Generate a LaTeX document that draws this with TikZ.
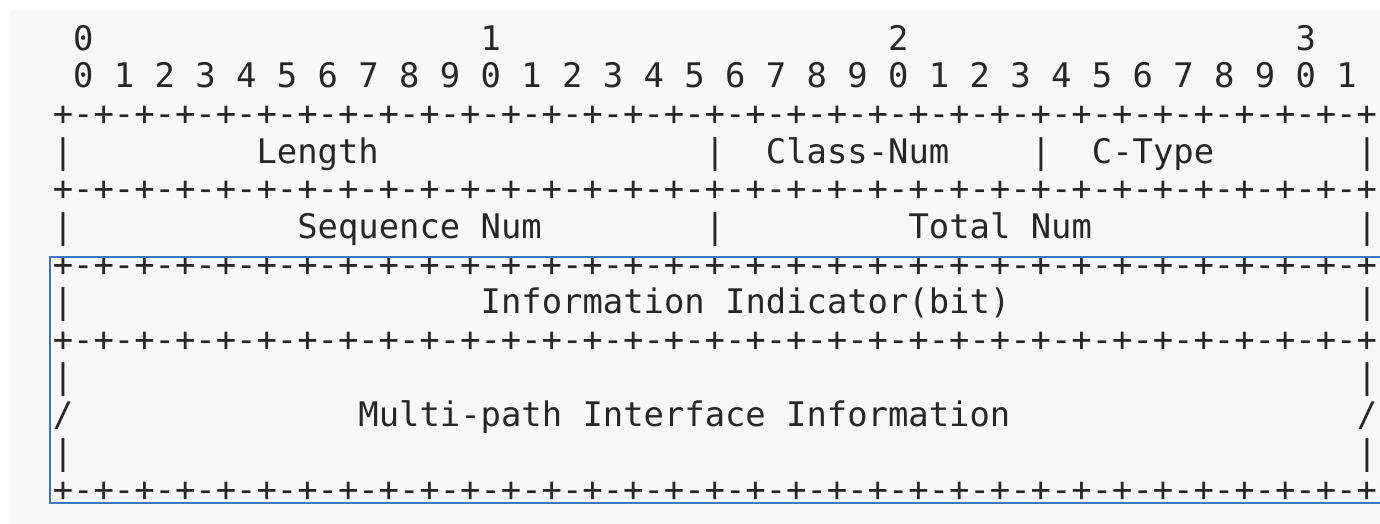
\documentclass[tikz,border=0pt]{standalone}
\usepackage{fontspec}
\newfontfamily\packetfont{DejaVu Sans Mono}
\definecolor{ink}{HTML}{262626}
\definecolor{pagebg}{HTML}{F8F8F8}
\definecolor{framecol}{HTML}{4472C4}
% column / row grid of the packet layout (units are px)
\newcommand\colpos[1]{52.8+20.375*(#1)}
\newcommand\rowpos[1]{50.4+37.6*((#1)-1)}
\newcommand\cellat[4]{\node[cell] (#1) at ({\colpos{#3}},{\rowpos{#2}}) {#4};}
\newcommand\ruleline{+-+-+-+-+-+-+-+-+-+-+-+-+-+-+-+-+-+-+-+-+-+-+-+-+-+-+-+-+-+-+-+-+}
\begin{document}
\begin{tikzpicture}[x=0.5pt,y=-0.5pt,
  cell/.style={anchor=base west,inner sep=0pt,outer sep=0pt,text=ink,
    font=\packetfont\fontsize{16.92pt}{20pt}\selectfont},
  highlight/.style={draw=framecol,line width=1pt}]
\useasboundingbox (0,0) rectangle (1380,524);
\clip (0,0) rectangle (1380,524);
\fill[pagebg] (10,10) rectangle (1390,534);

% bit numbering
\cellat{tens0}{1}{1}{0}
\cellat{tens1}{1}{21}{1}
\cellat{tens2}{1}{41}{2}
\cellat{tens3}{1}{61}{3}
\cellat{units}{2}{1}{0 1 2 3 4 5 6 7 8 9 0 1 2 3 4 5 6 7 8 9 0 1 2 3 4 5 6 7 8 9 0 1}

% separator lines
\foreach \r in {3,5,7,9,13}{
  \node[cell] (rule\r) at ({\colpos{0}},{\rowpos{\r}}) {\ruleline};
}

% word 1: object header
\cellat{bar4a}{4}{0}{|}
\cellat{length}{4}{10}{Length}
\cellat{bar4b}{4}{32}{|}
\cellat{classnum}{4}{35}{Class-Num}
\cellat{bar4c}{4}{48}{|}
\cellat{ctype}{4}{51}{C-Type}
\cellat{bar4d}{4}{64}{|}

% word 2
\cellat{bar6a}{6}{0}{|}
\cellat{seqnum}{6}{12}{Sequence Num}
\cellat{bar6b}{6}{32}{|}
\cellat{totalnum}{6}{42}{Total Num}
\cellat{bar6c}{6}{64}{|}

% word 3
\cellat{bar8a}{8}{0}{|}
\cellat{indicator}{8}{21}{Information Indicator(bit)}
\cellat{bar8b}{8}{64}{|}

% variable-length part
\cellat{bar10a}{10}{0}{|}
\cellat{bar10b}{10}{64}{|}
\cellat{slash11a}{11}{0}{/}
\cellat{mpinfo}{11}{15}{Multi-path Interface Information}
\cellat{slash11b}{11}{64}{/}
\cellat{bar12a}{12}{0}{|}
\cellat{bar12b}{12}{64}{|}

% frame around the new fields
\draw[highlight] (50,257) rectangle (1390,503);
\end{tikzpicture}
\end{document}
